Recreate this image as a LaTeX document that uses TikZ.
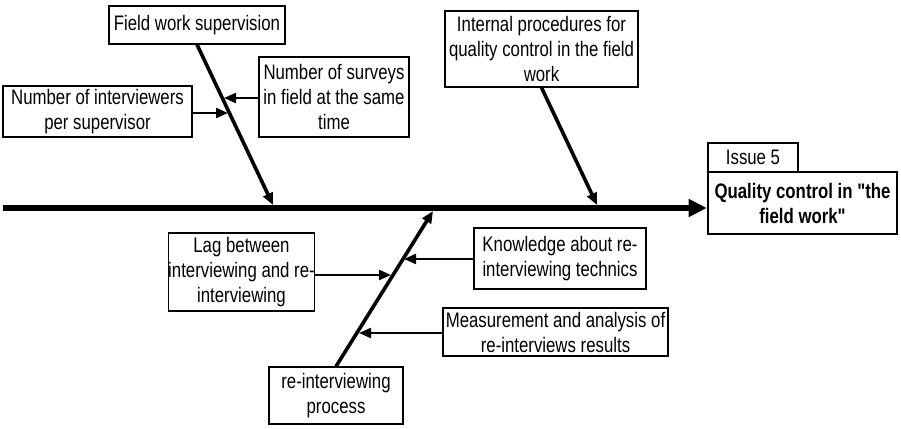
\documentclass[tikz,border=0pt]{standalone}
\usepackage{fontspec}
\setmainfont[FakeStretch=0.8,Ligatures=TeXOff]{Liberation Sans}
\usetikzlibrary{arrows.meta,calc}
\tikzset{
  box/.style={draw, line width=1.2pt, align=center, inner sep=0pt,
    font=\fontsize{21}{25}\selectfont},
  mainbox/.style={box, line width=2.6pt, font=\fontsize{21}{25}\selectfont\bfseries},
  diag/.style={line width=3.6pt, -{Triangle[length=12pt,width=10pt]}},
  twig/.style={line width=2.2pt, -{Triangle[length=12pt,width=10pt]}},
  spine/.style={line width=6pt, -{Triangle[length=18pt,width=17pt]}}
}
\begin{document}
\begin{tikzpicture}[x=1pt,y=-1pt]
\useasboundingbox (0,0) rectangle (901,428);
% boxes
\node[box, minimum width=176pt, minimum height=38pt] (fws) at (197,25) {Field work supervision};
\node[box, minimum width=150pt, minimum height=80pt] (nos) at (334,97) {Number of surveys\\in field at the same\\time};
\node[box, minimum width=189pt, minimum height=51pt] (noi) at (97.5,111.5) {Number of interviewers\\per supervisor};
\node[box, minimum width=193pt, minimum height=76pt] (ipq) at (541.5,49) {Internal procedures for\\quality control in the field\\work};
\node[box, minimum width=90pt, minimum height=29pt] (iss) at (753,157.5) {Issue 5};
\node[mainbox, minimum width=189pt, minimum height=62pt] (qc) at (802.5,203) {Quality control in "the\\field work"};
\node[box, minimum width=145pt, minimum height=78pt] (lag) at (241.5,272) {Lag between\\interviewing and re-\\interviewing};
\node[box, minimum width=172pt, minimum height=61pt] (kno) at (560,258.5) {Knowledge about re-\\interviewing technics};
\node[box, minimum width=225pt, minimum height=48pt] (mea) at (555.5,332) {Measurement and analysis of\\re-interviews results};
\node[box, minimum width=134pt, minimum height=57pt] (rip) at (336,395.5) {re-interviewing\\process};
% spine
\coordinate (tail) at (3,208);
\draw[spine] (tail) -- (tail -| qc.west);
% upper bones
\coordinate (s1) at (273,205);
\draw[diag] (fws.south) -- (s1);
\coordinate (s2) at (597,205);
\draw[diag] (ipq.south) -- (s2);
\coordinate (t1) at (224,98);
\draw[twig] (nos.west |- t1) -- (t1);
\coordinate (t2) at (228,113);
\draw[twig] (noi.east |- t2) -- (t2);
% lower bone
\coordinate (s3) at (433,211);
\draw[diag] (rip.north) -- (s3);
\coordinate (t3) at (391,275);
\draw[twig] (lag.east |- t3) -- (t3);
\coordinate (t4) at (404,259);
\draw[twig] (kno.west |- t4) -- (t4);
\coordinate (t5) at (359,333);
\draw[twig] (mea.west |- t5) -- (t5);
\end{tikzpicture}
\end{document}
